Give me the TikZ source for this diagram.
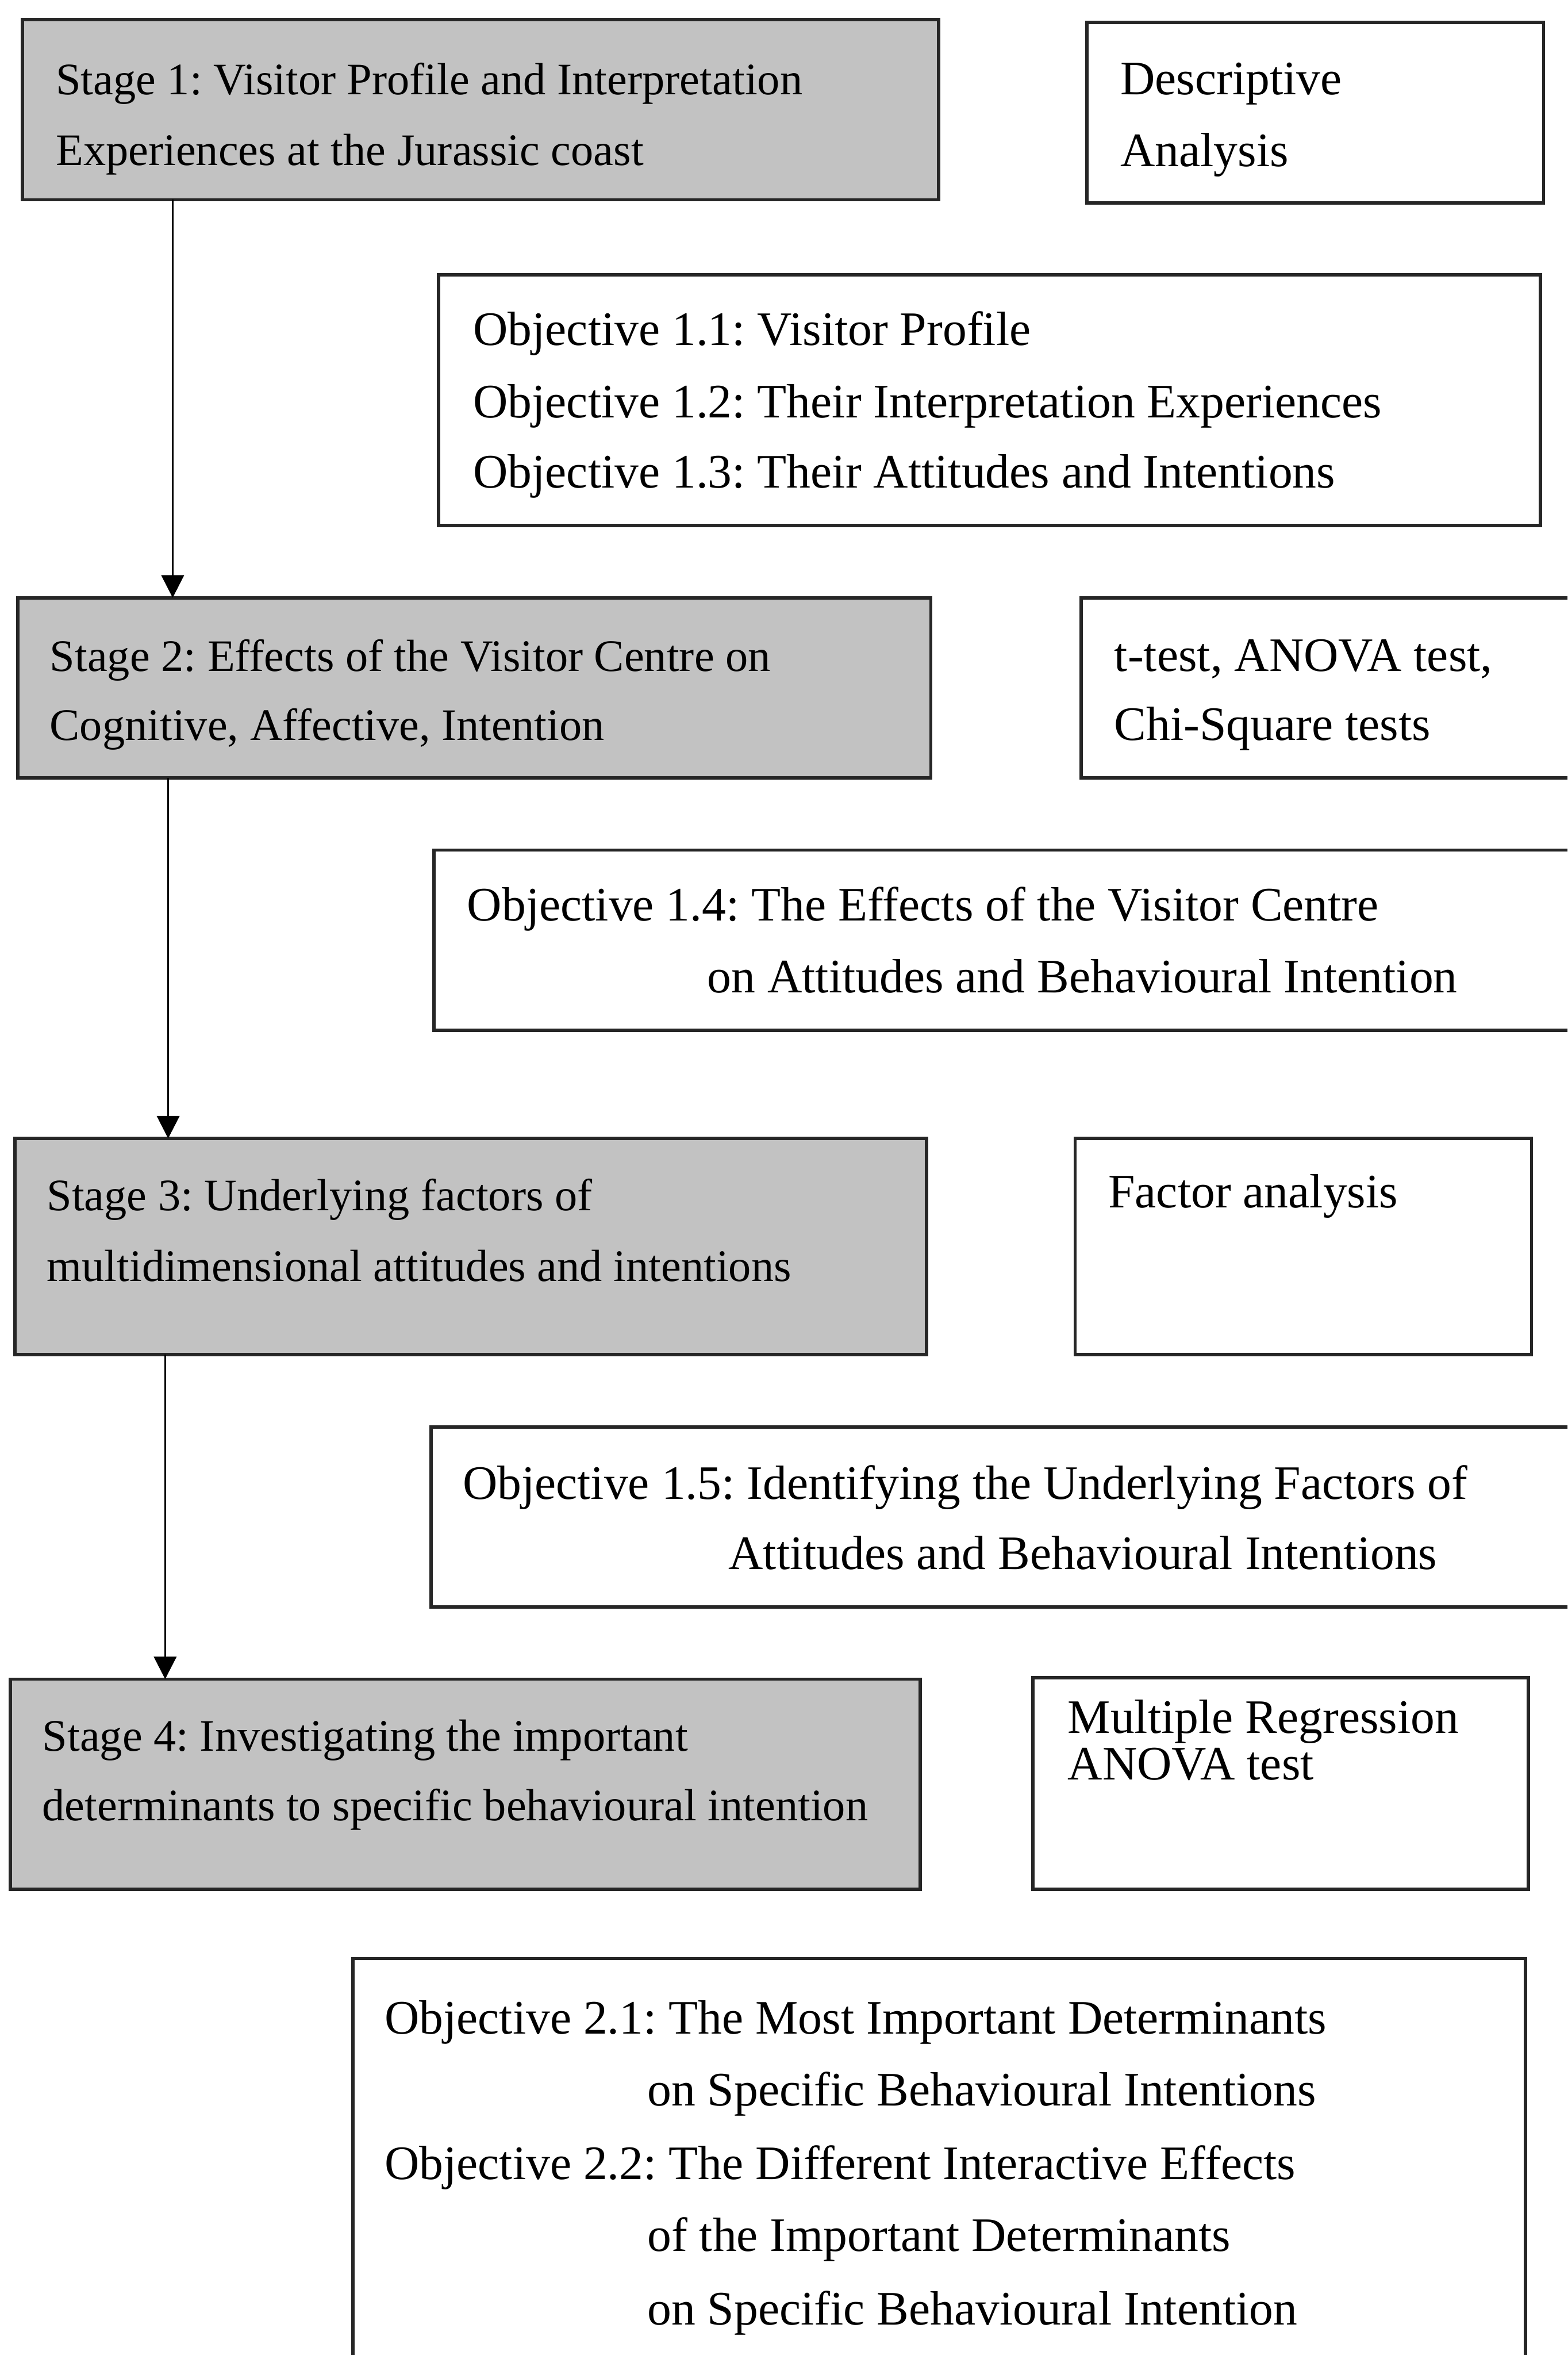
\documentclass[tikz,border=0pt]{standalone}
\usepackage{fontspec}
\setmainfont{Liberation Serif}
\usetikzlibrary{arrows.meta}
\frenchspacing
\begin{document}
\begin{tikzpicture}[x=1pt,y=-1pt,
  stagebox/.style={draw=black!85,line width=2.2pt,fill=black!24},
  methodbox/.style={draw=black!85,line width=2.2pt,fill=white},
  txt/.style={anchor=base west,inner sep=0pt,font=\fontsize{32}{38}\selectfont},
  stxt/.style={txt,font=\fontsize{30}{36}\selectfont},
  flow/.style={draw=black,line width=1.3pt,-{Triangle[length=15pt,width=15pt]}}]
\useasboundingbox (0,0) rectangle (1044,1568);
\clip (0,0) rectangle (1044,1568);
\fill[white] (0,0) rectangle (1044,1568);

% stage 1
\path[stagebox] (15,13) rectangle (625,133);
\coordinate (s1) at (15,133);
\node[stxt] (s1a) at (37,63) {Stage 1: Visitor Profile and Interpretation};
\node[stxt] (s1b) at (37,110) {Experiences at the Jurassic coast};
\path[methodbox] (724,15) rectangle (1028,135);
\node[txt] (m1a) at (746,63) {Descriptive};
\node[txt] (m1b) at (746,111) {Analysis};
\path[methodbox] (292,183) rectangle (1026,350);
\node[txt] (o1a) at (315,230) {Objective 1.1: Visitor Profile};
\node[txt] (o1b) at (315,278) {Objective 1.2: Their Interpretation Experiences};
\node[txt] (o1c) at (315,325) {Objective 1.3: Their Attitudes and Intentions};

% stage 2
\path[stagebox] (12,398) rectangle (620,518);
\coordinate (s2) at (12,398);
\coordinate (s2b) at (12,518);
\node[stxt] (s2a) at (33,447) {Stage 2: Effects of the Visitor Centre on};
\node[stxt] (s2c) at (33,493) {Cognitive, Affective, Intention};
\path[methodbox] (720,398) rectangle (1060,518);
\node[txt] (m2a) at (742,447) {t-test, ANOVA test,};
\node[txt] (m2b) at (742,493) {Chi-Square tests};
\path[methodbox] (289,566) rectangle (1060,686);
\node[txt] (o2a) at (311,613) {Objective 1.4: The Effects of the Visitor Centre};
\node[txt] (o2b) at (471,661) {on Attitudes and Behavioural Intention};

% stage 3
\path[stagebox] (10,758) rectangle (617,902);
\coordinate (s3) at (10,758);
\coordinate (s3b) at (10,902);
\node[stxt] (s3a) at (31,806) {Stage 3: Underlying factors of};
\node[stxt] (s3c) at (31,853) {multidimensional attitudes and intentions};
\path[methodbox] (716,758) rectangle (1020,902);
\node[txt] (m3a) at (738,804) {Factor analysis};
\path[methodbox] (287,950) rectangle (1060,1070);
\node[txt] (o3a) at (308,998) {Objective 1.5: Identifying the Underlying Factors of};
\node[txt] (o3b) at (485,1045) {Attitudes and Behavioural Intentions};

% stage 4
\path[stagebox] (7,1118) rectangle (613,1258);
\coordinate (s4) at (7,1118);
\node[stxt] (s4a) at (28,1166) {Stage 4: Investigating the important};
\node[stxt] (s4c) at (28,1212) {determinants to specific behavioural intention};
\path[methodbox] (688,1117) rectangle (1018,1258);
\node[txt] (m4a) at (711,1154) {Multiple Regression};
\node[txt] (m4b) at (711,1185) {ANOVA test};
\path[methodbox] (235,1304) rectangle (1016,1590);
\node[txt] (o4a) at (256,1354) {Objective 2.1: The Most Important Determinants};
\node[txt] (o4b) at (431,1402) {on Specific Behavioural Intentions};
\node[txt] (o4c) at (256,1451) {Objective 2.2: The Different Interactive Effects};
\node[txt] (o4d) at (431,1499) {of the Important Determinants};
\node[txt] (o4e) at (431,1548) {on Specific Behavioural Intention};

% connectors between stages
\draw[flow] ([xshift=100pt]s1) -- ([xshift=100pt]s1 |- s2);
\draw[flow] ([xshift=100pt]s2b) -- ([xshift=100pt]s2b |- s3);
\draw[flow] ([xshift=100pt]s3b) -- ([xshift=100pt]s3b |- s4);
\end{tikzpicture}
\end{document}
